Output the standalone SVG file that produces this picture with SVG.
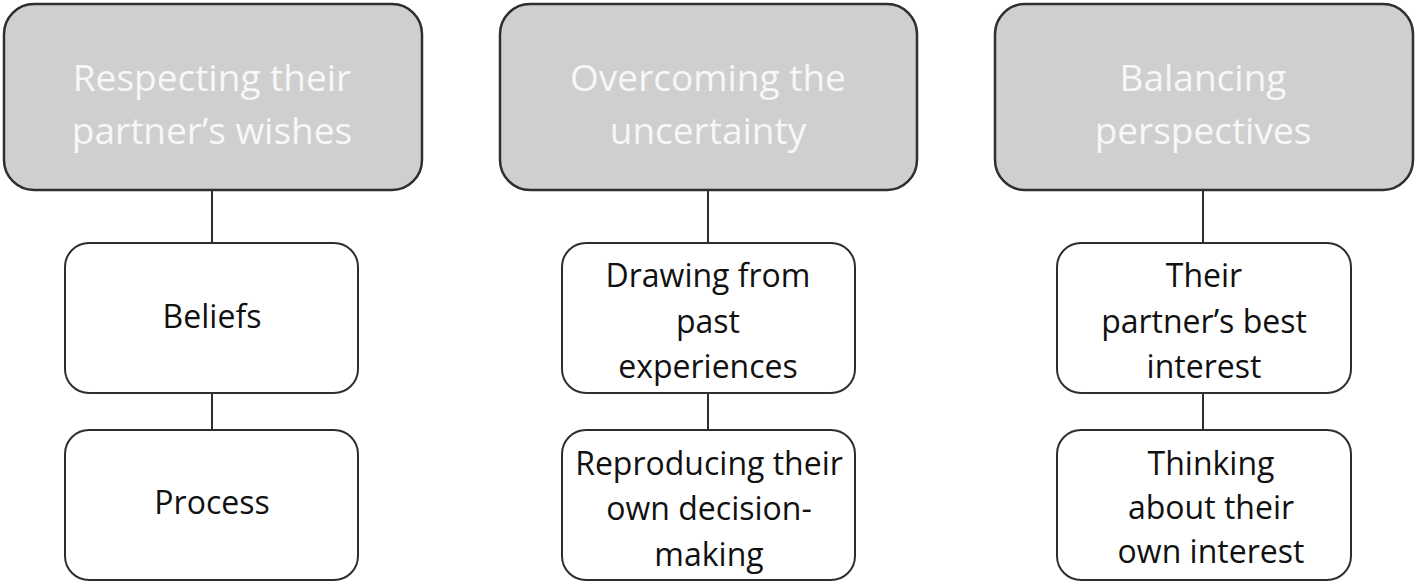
<svg xmlns="http://www.w3.org/2000/svg" width="1418" height="586" viewBox="0 0 1418 586">
<style>
.top rect{fill:#cfcfcf;stroke:#2e2e2e;stroke-width:2.5}
.top text{fill:#f7f7f7;font-family:"Open Sans","Liberation Sans",sans-serif;font-size:37px;text-anchor:middle}
.child rect{fill:#ffffff;stroke:#2e2e2e;stroke-width:2}
.child text{fill:#111111;font-family:"Open Sans","Liberation Sans",sans-serif;font-size:32px;text-anchor:middle}
.conn line{stroke:#2e2e2e;stroke-width:2}
</style>
<rect width="1418" height="586" fill="#ffffff"/>
<g id="connectors" class="conn">
<line x1="212" y1="190" x2="212" y2="243"/>
<line x1="212" y1="393" x2="212" y2="430"/>
<line x1="708" y1="190" x2="708" y2="243"/>
<line x1="708" y1="393" x2="708" y2="430"/>
<line x1="1203" y1="190" x2="1203" y2="243"/>
<line x1="1203" y1="393" x2="1203" y2="430"/>
</g>
<g id="top1" class="top">
<rect x="4" y="4" width="418" height="186" rx="30"/>
<text x="212" y="91">Respecting their</text>
<text x="212" y="144">partner’s wishes</text>
</g>
<g id="top2" class="top">
<rect x="500" y="4" width="417" height="186" rx="30"/>
<text x="708" y="91">Overcoming the</text>
<text x="708" y="144">uncertainty</text>
</g>
<g id="top3" class="top">
<rect x="995" y="4" width="418" height="186" rx="30"/>
<text x="1203" y="91">Balancing</text>
<text x="1203" y="144">perspectives</text>
</g>
<g id="c1a" class="child">
<rect x="65" y="243" width="293" height="150" rx="24"/>
<text x="212" y="328">Beliefs</text>
</g>
<g id="c1b" class="child">
<rect x="65" y="430" width="293" height="150" rx="24"/>
<text x="212" y="514">Process</text>
</g>
<g id="c2a" class="child">
<rect x="562" y="243" width="293" height="150" rx="24"/>
<text x="708" y="287">Drawing from</text>
<text x="708" y="333">past</text>
<text x="708" y="378">experiences</text>
</g>
<g id="c2b" class="child">
<rect x="562" y="430" width="293" height="150" rx="24"/>
<text x="709" y="475">Reproducing their</text>
<text x="709" y="520">own decision-</text>
<text x="709" y="566">making</text>
</g>
<g id="c3a" class="child">
<rect x="1057" y="243" width="294" height="150" rx="24"/>
<text x="1204" y="287">Their</text>
<text x="1204" y="333">partner’s best</text>
<text x="1204" y="378">interest</text>
</g>
<g id="c3b" class="child">
<rect x="1057" y="430" width="294" height="150" rx="24"/>
<text x="1211" y="475">Thinking</text>
<text x="1211" y="519">about their</text>
<text x="1211" y="563">own interest</text>
</g>
</svg>
